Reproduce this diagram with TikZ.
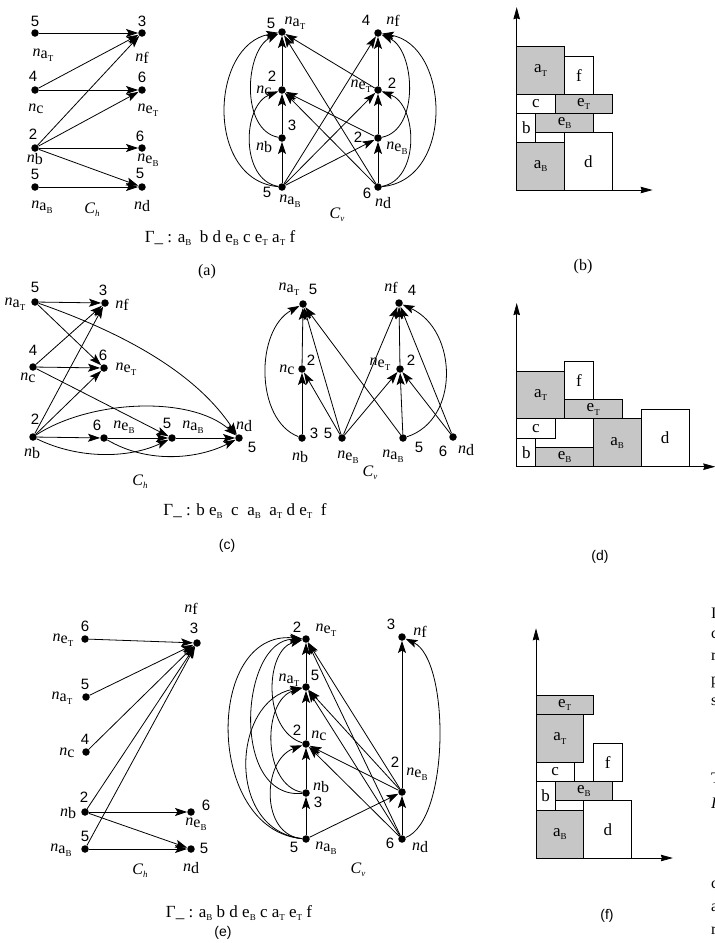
\documentclass[tikz,border=0pt]{standalone}
\usepackage{fontspec}
\setmainfont{Liberation Serif}
\newfontfamily\numfont{Liberation Sans}
\usetikzlibrary{arrows.meta,calc}

\definecolor{boxgray}{RGB}{198,198,198}

% small lowered index letter (T, B)
\newcommand{\lsub}[1]{\raisebox{-0.45ex}{\fontsize{9}{9}\selectfont #1}}
% node name n_x
\newcommand{\nn}[1]{\textit{n}\raisebox{-0.3ex}{#1}}
% graph vertex: name, position, number, number offset, label, label offset
\newcommand{\vtx}[6]{%
  \node[dot] (#1) at (#2) {};
  \node[num] (#1-num) at ($(#1)+(#4)$) {#3};
  \node[lab] (#1-lab) at ($(#1)+(#6)$) {#5};}
% packing block: name, fill, x1, y1, x2, y2, text
\newcommand{\blk}[7]{%
  \draw[blkline, fill=#2] (#3,#4) rectangle (#5,#6);
  \node[blklab] (#1) at ({(#3+#5)/2},{(#4+#6)/2}) {#7};}

\tikzset{
  dot/.style={circle, fill=black, inner sep=0pt, minimum size=7.5pt},
  arr/.style={line width=0.8pt, -{Stealth[length=12pt,width=8pt,inset=2.5pt]}},
  num/.style={font=\numfont\fontsize{15}{15}\selectfont, inner sep=0pt},
  lab/.style={font=\fontsize{16}{16}\selectfont, inner sep=0pt},
  capt/.style={font=\fontsize{16}{16}\selectfont, inner sep=0pt},
  gam/.style={font=\fontsize{17}{17}\selectfont, inner sep=0pt},
  pser/.style={font=\fontsize{16}{16}\selectfont, inner sep=0pt},
  psans/.style={font=\numfont\fontsize{14}{14}\selectfont, inner sep=0pt},
  edge text/.style={font=\fontsize{16}{16}\selectfont, inner sep=0pt, anchor=base west},
  blkline/.style={line width=0.9pt},
  blklab/.style={font=\fontsize{17}{17}\selectfont, inner sep=0pt},
  axis/.style={line width=0.75pt, -{Stealth[length=12pt,width=6.5pt,inset=1pt]}},
}

\begin{document}
\begin{tikzpicture}[x=1pt,y=-1pt]
\clip (0,0) rectangle (715,943);
\fill[white] (0,0) rectangle (715,943);

% ---------------- (a) horizontal constraint graph ----------------
\vtx{aT1}{35,33}{5}{0,-12}{\nn{a\lsub{T}}}{8,22}
\vtx{f1}{142,33}{3}{0,-12}{\nn{f}}{0,25}
\vtx{c1}{35,90}{4}{-2,-14}{\nn{c}}{1,19}
\vtx{eT1}{142,90}{6}{0,-13}{\nn{e\lsub{T}}}{6,20}
\vtx{b1}{35,148}{2}{-2,-14}{\nn{b}}{0,11}
\vtx{eB1}{142,148}{6}{-2,-12}{\nn{e\lsub{B}}}{6,12}
\vtx{aB1}{35,187}{5}{0,-13}{\nn{a\lsub{B}}}{7,20}
\vtx{d1}{142,187}{5}{-2,-14}{\nn{d}}{0,19}
\node[capt] (Ch1) at (92,210) {\textit{C}\raisebox{-0.4ex}{\small\textit{h}}};
\draw[arr] (aT1) -- (f1);
\draw[arr] (c1) -- (f1);
\draw[arr] (c1) -- (eT1);
\draw[arr] (b1) -- (f1);
\draw[arr] (b1) -- (eT1);
\draw[arr] (b1) -- (eB1);
\draw[arr] (b1) -- (d1);
\draw[arr] (aB1) -- (d1);

% ---------------- (a) vertical constraint graph ----------------
\vtx{aT2}{282,32}{5}{-11,-9}{\nn{a\lsub{T}}}{13,-9}
\vtx{f2}{378,33}{4}{-12,-13}{\nn{f}}{15,-12}
\vtx{c2}{282,90}{2}{-10,-14}{\nn{c}}{-18,1}
\vtx{eT2}{378,90}{2}{14,-7}{\nn{e\lsub{T}}}{-17,-4}
\vtx{b2}{282,138}{3}{10,-13}{\nn{b}}{-18,9}
\vtx{eB2}{378,138}{2}{-20,-1}{\nn{e\lsub{B}}}{19,10}
\vtx{aB2}{282,187}{5}{-15,5}{\nn{a\lsub{B}}}{8,14}
\vtx{d2}{378,187}{6}{-11,6}{\nn{d}}{5,16}
\node[capt] (Cv1) at (337,215) {\textit{C}\raisebox{-0.4ex}{\small\textit{v}}};
\draw[arr] (c2) -- (aT2);
\draw[arr] (b2) -- (c2);
\draw[arr] (aB2) -- (b2);
\draw[arr] (eT2) -- (f2);
\draw[arr] (eB2) -- (eT2);
\draw[arr] (d2) -- (eB2);
\draw[arr] (aB2) -- (eB2);
\draw[arr] (aB2) -- (eT2);
\draw[arr] (aB2) -- (f2);
\draw[arr] (d2) -- (c2);
\draw[arr] (d2) -- (aT2);
\draw[arr] (eB2) -- (c2);
\draw[arr] (eT2) -- (aT2);
\draw[arr] (b2) .. controls (240,130) and (245,50) .. (aT2);
\draw[arr] (aB2) .. controls (240,180) and (242,105) .. (c2);
\draw[arr] (aB2) .. controls (205,180) and (210,45) .. (aT2);
\draw[arr] (eB2) .. controls (420,130) and (415,50) .. (f2);
\draw[arr] (d2) .. controls (420,180) and (418,105) .. (eT2);
\draw[arr] (d2) .. controls (455,180) and (450,45) .. (f2);

\node[gam] (G1) at (220,238) {Γ\_ : a\lsub{B}\ \ b d e\lsub{B} c e\lsub{T} a\lsub{T} f};
\node[pser] (La) at (207,272) {(a)};

% ---------------- (b) packing ----------------
\begin{scope}[shift={(516.7,190)},x=9.57pt,y=9.57pt]
  \blk{bB}{boxgray}{0}{0}{5}{5}{a\lsub{B}}
  \blk{bd}{white}{5}{0}{10}{6}{d}
  \blk{bb}{white}{0}{5}{2}{8}{b}
  \blk{beB}{boxgray}{2}{6}{8}{8}{e\lsub{B}}
  \blk{bc}{white}{0}{8}{4}{10}{c}
  \blk{beT}{boxgray}{4}{8}{10}{10}{e\lsub{T}}
  \blk{baT}{boxgray}{0}{10}{5}{15}{a\lsub{T}}
  \blk{bf}{white}{5}{10}{8}{14}{f}
  \coordinate (bO) at (0,0);
  \coordinate (bY) at (0,19.1);
  \coordinate (bX) at (14.2,0);
  \draw[axis] (bO) -- (bY);
  \draw[axis] (bO) -- (bX);
\end{scope}
\node[pser] (Lb) at (583,267) {(b)};

% ---------------- (c) horizontal constraint graph ----------------
\vtx{aT3}{35,302}{5}{0,-15}{\nn{a\lsub{T}}}{-20,2}
\vtx{f3}{105,303}{3}{-2,-13}{\nn{f}}{17,2}
\vtx{c3}{33,367}{4}{0,-17}{\nn{c}}{-5,11}
\vtx{eT3}{104,368}{6}{-1,-13}{\nn{e\lsub{T}}}{22,1}
\vtx{b3}{33,437}{2}{2,-18}{\nn{b}}{-1,16}
\vtx{eB3}{104,438}{6}{-7,-13}{\nn{e\lsub{B}}}{20,-11}
\vtx{aB3}{172,438}{5}{-5,-15}{\nn{a\lsub{B}}}{21,-11}
\vtx{d3}{239,438}{5}{13,9}{\nn{d}}{5,-12}
\node[capt] (Ch2) at (140,482) {\textit{C}\raisebox{-0.4ex}{\small\textit{h}}};
\draw[arr] (aT3) -- (f3);
\draw[arr] (aT3) -- (eT3);
\draw[arr] (aT3) .. controls (135,337) and (199,378) .. (d3);
\draw[arr] (c3) -- (f3);
\draw[arr] (c3) -- (eT3);
\draw[arr] (c3) -- (aB3);
\draw[arr] (b3) -- (f3);
\draw[arr] (b3) -- (eT3);
\draw[arr] (b3) -- (eB3);
\draw[arr] (b3) .. controls (90,400) and (190,395) .. (d3);
\draw[arr] (b3) .. controls (80,460) and (130,458) .. (aB3);
\draw[arr] (eB3) -- (aB3);
\draw[arr] (eB3) .. controls (150,465) and (200,458) .. (d3);
\draw[arr] (aB3) -- (d3);

% ---------------- (c) vertical constraint graph ----------------
\vtx{aT4}{303,304}{5}{10,-15}{\nn{a\lsub{T}}}{-14,-15}
\vtx{f4}{399,303}{4}{13,-13}{\nn{f}}{-8,-15}
\vtx{c4}{302,369}{2}{9,-9}{\nn{c}}{-15,1}
\vtx{eT4}{400,369}{2}{11,-9}{\nn{e\lsub{T}}}{-20,-5}
\vtx{b4}{302,438}{3}{12,-5}{\nn{b}}{-2,19}
\vtx{eB4}{342,438}{5}{-14,-5}{\nn{e\lsub{B}}}{6,19}
\vtx{aB4}{403,438}{5}{16,9}{\nn{a\lsub{B}}}{-10,18}
\vtx{d4}{453,437}{6}{-10,14}{\nn{d}}{13,13}
\node[capt] (Cv2) at (370,473) {\textit{C}\raisebox{-0.4ex}{\small\textit{v}}};
\draw[arr] (c4) -- (aT4);
\draw[arr] (b4) -- (c4);
\draw[arr] (b4) .. controls (255,420) and (255,330) .. (aT4);
\draw[arr] (eB4) -- (c4);
\draw[arr] (eB4) -- (aT4);
\draw[arr] (aB4) -- (aT4);
\draw[arr] (eB4) -- (f4);
\draw[arr] (eB4) -- (eT4);
\draw[arr] (eT4) -- (f4);
\draw[arr] (aB4) -- (eT4);
\draw[arr] (aB4) .. controls (460,420) and (458,330) .. (f4);
\draw[arr] (d4) -- (eT4);
\draw[arr] (d4) -- (f4);

\node[gam] (G2) at (245,511) {Γ\_ : b e\lsub{B}\ \ c\ \ a\lsub{B}\ \ a\lsub{T} d e\lsub{T}\ \ f};
\node[psans] (Lc) at (227,546) {(c)};

% ---------------- (d) packing ----------------
\begin{scope}[shift={(516.7,466.7)},x=9.57pt,y=9.57pt]
  \blk{db}{white}{0}{0}{2}{3}{b}
  \blk{deB}{boxgray}{2}{0}{8}{2}{e\lsub{B}}
  \blk{dc}{white}{0}{3}{4}{5}{c}
  \blk{daB}{boxgray}{8}{0}{13}{5}{a\lsub{B}}
  \blk{dd}{white}{13}{0}{18}{6}{d}
  \blk{daT}{boxgray}{0}{5}{5}{10}{a\lsub{T}}
  \blk{deT}{boxgray}{5}{5}{11}{7}{e\lsub{T}}
  \blk{df}{white}{5}{7}{8}{11}{f}
  \coordinate (dO) at (0,0);
  \coordinate (dY) at (0,17.1);
  \coordinate (dX) at (20.75,0);
  \draw[axis] (dO) -- (dY);
  \draw[axis] (dO) -- (dX);
\end{scope}
\node[psans] (Ld) at (600,557) {(d)};

% ---------------- (e) horizontal constraint graph ----------------
\vtx{eT5}{85,639}{6}{0,-13}{\nn{e\lsub{T}}}{-22,1}
\vtx{aT5}{86,697}{5}{-1,-13}{\nn{a\lsub{T}}}{-24,1}
\vtx{c5}{86,752}{4}{-1,-13}{\nn{c}}{-19,1}
\vtx{b5}{85,812}{2}{-1,-15}{\nn{b}}{-17,1}
\vtx{aB5}{85,849}{5}{0,-13}{\nn{a\lsub{B}}}{-24,1}
\vtx{f5}{197,643}{3}{-3,-15}{\nn{f}}{-6,-34}
\vtx{eB5}{191,812}{6}{15,-7}{\nn{e\lsub{B}}}{5,12}
\vtx{d5}{191,849}{5}{13,-1}{\nn{d}}{0,19}
\node[capt] (Ch3) at (140,871) {\textit{C}\raisebox{-0.4ex}{\small\textit{h}}};
\draw[arr] (eT5) -- (f5);
\draw[arr] (aT5) -- (f5);
\draw[arr] (c5) -- (f5);
\draw[arr] (b5) -- (f5);
\draw[arr] (aB5) -- (f5);
\draw[arr] (b5) -- (eB5);
\draw[arr] (b5) -- (d5);
\draw[arr] (aB5) -- (d5);

% ---------------- (e) vertical constraint graph ----------------
\vtx{eT6}{306,639}{2}{-9,-12}{\nn{e\lsub{T}}}{20,-9}
\vtx{aT6}{306,687}{5}{9,-12}{\nn{a\lsub{T}}}{-17,-7}
\vtx{c6}{306,744}{2}{-9,-14}{\nn{c}}{13,-8}
\vtx{b6}{306,793}{3}{12,9}{\nn{b}}{15,-6}
\vtx{aB6}{306,839}{5}{-12,8}{\nn{a\lsub{B}}}{20,9}
\vtx{f6}{402,637}{3}{-11,-13}{\nn{f}}{18,-5}
\vtx{eB6}{402,792}{2}{-7,-30}{\nn{e\lsub{B}}}{15,-18}
\vtx{d6}{402,839}{6}{-12,4}{\nn{d}}{18,8}
\node[capt] (Cv3) at (358,870) {\textit{C}\raisebox{-0.4ex}{\small\textit{v}}};
\draw[arr] (aT6) -- (eT6);
\draw[arr] (c6) -- (aT6);
\draw[arr] (b6) -- (c6);
\draw[arr] (aB6) -- (b6);
\draw[arr] (eB6) -- (f6);
\draw[arr] (d6) -- (eB6);
\draw[arr] (aB6) .. controls (205,830) and (205,630) .. (eT6);
\draw[arr] (b6) .. controls (230,800) and (240,640) .. (eT6);
\draw[arr] (aB6) .. controls (225,830) and (232,700) .. (aT6);
\draw[arr] (aB6) .. controls (260,835) and (262,760) .. (c6);
\draw[arr] (c6) .. controls (262,730) and (265,650) .. (eT6);
\draw[arr] (b6) .. controls (262,785) and (262,700) .. (aT6);
\draw[arr] (d6) .. controls (450,820) and (450,660) .. (f6);
\draw[arr] (eB6) -- (c6);
\draw[arr] (eB6) -- (aT6);
\draw[arr] (eB6) -- (eT6);
\draw[arr] (d6) -- (c6);
\draw[arr] (d6) -- (aT6);
\draw[arr] (d6) -- (eT6);
\draw[arr] (aB6) -- (eB6);

\node[gam] (G3) at (239,913) {Γ\_ : a\lsub{B} b d e\lsub{B} c a\lsub{T} e\lsub{T} f};
\node[psans] (Le) at (223,933) {(e)};

% ---------------- (f) packing ----------------
\begin{scope}[shift={(536,858)},x=9.57pt,y=9.57pt]
  \blk{faB}{boxgray}{0}{0}{5}{5}{a\lsub{B}}
  \blk{fd}{white}{5}{0}{10}{6}{d}
  \blk{fb}{white}{0}{5}{2}{8}{b}
  \blk{feB}{boxgray}{2}{6}{8}{8}{e\lsub{B}}
  \blk{fc}{white}{0}{8}{4}{10}{c}
  \blk{ff}{white}{6}{8}{9}{12}{f}
  \blk{faT}{boxgray}{0}{10}{5}{15}{a\lsub{T}}
  \blk{feT}{boxgray}{0}{15}{6}{17}{e\lsub{T}}
  \coordinate (fO) at (0,0);
  \coordinate (fY) at (0,24);
  \coordinate (fX) at (14.3,0);
  \draw[axis] (fO) -- (fY);
  \draw[axis] (fO) -- (fX);
\end{scope}
\node[psans] (Lf) at (607,916) {(f)};

% ---------------- line starts of the neighbouring text column ----------------
\node[edge text] (t1) at (711,618) {I};
\node[edge text] (t2) at (711,638) {c};
\node[edge text] (t3) at (711,660) {r};
\node[edge text] (t4) at (711,684) {p};
\node[edge text] (t5) at (711,705) {s};
\node[edge text] (t6) at (711,783) {T};
\node[edge text] (t7) at (711,808) {\textit{I}};
\node[edge text] (t8) at (711,888) {c};
\node[edge text] (t9) at (711,911) {a};
\node[edge text] (t10) at (711,934) {r};

\end{tikzpicture}
\end{document}
